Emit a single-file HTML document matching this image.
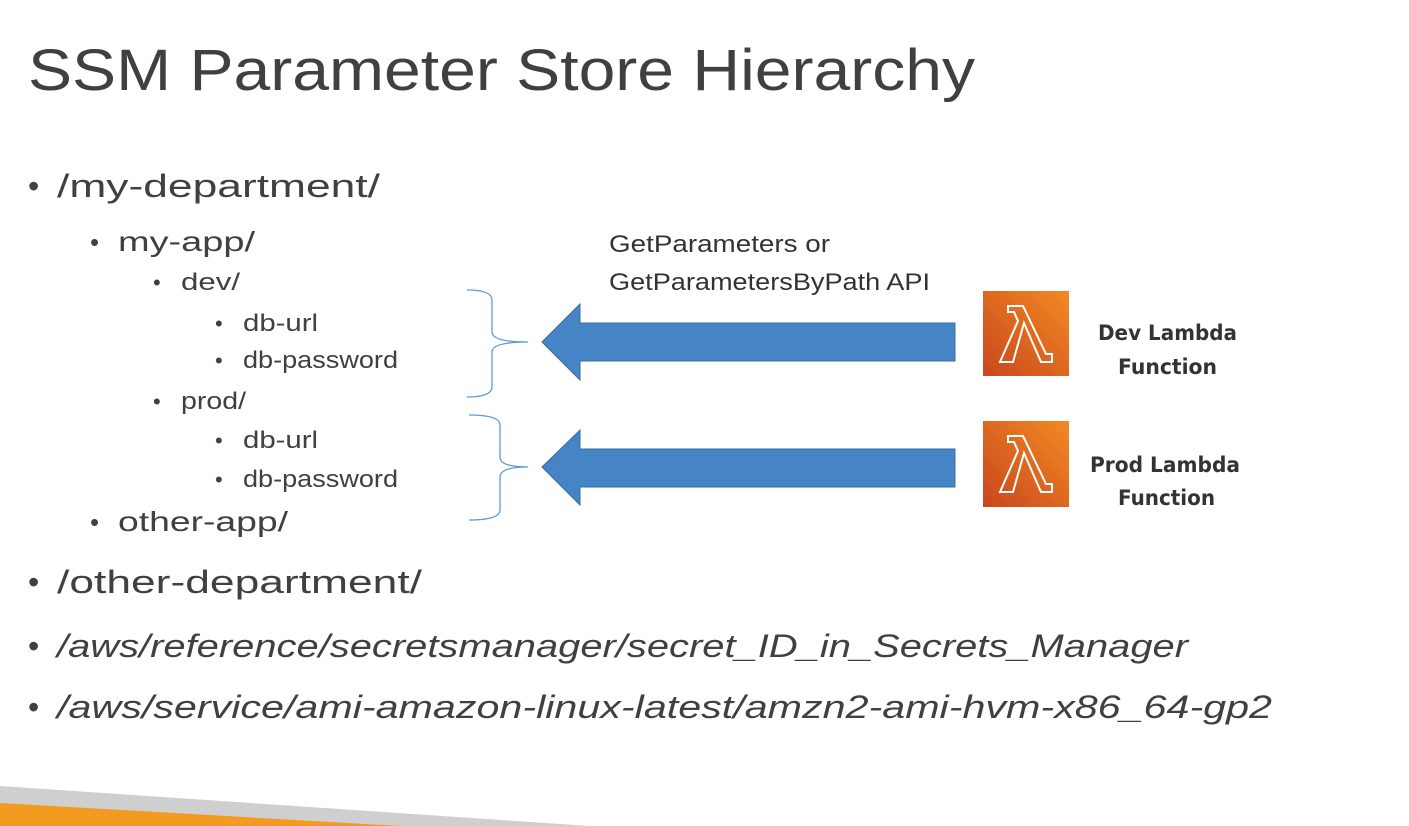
<!DOCTYPE html>
<html><head><meta charset="utf-8"><style>
html,body{margin:0;padding:0;background:#fff;width:1409px;height:826px;overflow:hidden}
svg{display:block}
.t{font-family:"Liberation Sans",sans-serif;fill:#404040}
.l{font-family:"Liberation Sans",sans-serif;fill:#333}
.b{font-family:"DejaVu Sans","Liberation Sans",sans-serif;font-weight:bold;fill:#333}
</style></head><body>
<svg width="1409" height="826" viewBox="0 0 1409 826">
<defs><linearGradient id="g" x1="0" y1="1" x2="1" y2="0"><stop offset="0" stop-color="#c9461e"/><stop offset="1" stop-color="#f28a22"/></linearGradient></defs>
<text class="t" x="28" y="90" font-size="58" textLength="947" lengthAdjust="spacingAndGlyphs">SSM Parameter Store Hierarchy</text>
<g class="t">
<text x="28" y="197" font-size="32">•</text><text x="57" y="197" font-size="32" textLength="323" lengthAdjust="spacingAndGlyphs">/my-department/</text>
<text x="90" y="251" font-size="26">•</text><text x="118" y="251" font-size="28" textLength="137" lengthAdjust="spacingAndGlyphs">my-app/</text>
<text x="153" y="290" font-size="22">•</text><text x="181" y="290" font-size="24" textLength="59" lengthAdjust="spacingAndGlyphs">dev/</text>
<text x="215" y="331" font-size="22">•</text><text x="243" y="331" font-size="24" textLength="75" lengthAdjust="spacingAndGlyphs">db-url</text>
<text x="215" y="368" font-size="22">•</text><text x="243" y="368" font-size="24" textLength="155" lengthAdjust="spacingAndGlyphs">db-password</text>
<text x="153" y="409" font-size="22">•</text><text x="181" y="409" font-size="24" textLength="65" lengthAdjust="spacingAndGlyphs">prod/</text>
<text x="215" y="448" font-size="22">•</text><text x="243" y="448" font-size="24" textLength="75" lengthAdjust="spacingAndGlyphs">db-url</text>
<text x="215" y="487" font-size="22">•</text><text x="243" y="487" font-size="24" textLength="155" lengthAdjust="spacingAndGlyphs">db-password</text>
<text x="90" y="531" font-size="26">•</text><text x="118" y="531" font-size="28" textLength="170" lengthAdjust="spacingAndGlyphs">other-app/</text>
<text x="28" y="593" font-size="32">•</text><text x="57" y="593" font-size="32" textLength="365" lengthAdjust="spacingAndGlyphs">/other-department/</text>
<text x="28" y="657" font-size="32">•</text><text x="57" y="657" font-size="32" font-style="italic" textLength="1131" lengthAdjust="spacingAndGlyphs">/aws/reference/secretsmanager/secret_ID_in_Secrets_Manager</text>
<text x="28" y="718" font-size="32">•</text><text x="57" y="718" font-size="32" font-style="italic" textLength="1215" lengthAdjust="spacingAndGlyphs">/aws/service/ami-amazon-linux-latest/amzn2-ami-hvm-x86_64-gp2</text>
</g>
<text class="l" x="609" y="252" font-size="24" textLength="221" lengthAdjust="spacingAndGlyphs">GetParameters or</text>
<text class="l" x="609" y="290" font-size="24" textLength="321" lengthAdjust="spacingAndGlyphs">GetParametersByPath API</text>
<path d="M467 290 Q492 290 492 300 L492 332 Q492 342 528 342 Q492 342 492 352 L492 387 Q492 397 467 397" fill="none" stroke="#5b9bd5" stroke-width="1.3"/>
<path d="M469 415 Q500 415 500 425 L500 457 Q500 467 528 467 Q500 467 500 477 L500 510 Q500 520 469 520" fill="none" stroke="#5b9bd5" stroke-width="1.3"/>
<polygon points="542,342 580,304 580,323 955,323 955,361 580,361 580,380" fill="#4585c5" stroke="#3a6d9e" stroke-width="1"/>
<polygon points="542,467 580,430 580,449 955,449 955,487 580,487 580,505" fill="#4585c5" stroke="#3a6d9e" stroke-width="1"/>
<g>
<rect x="983" y="291" width="86" height="85" fill="url(#g)"/>
<path d="M1008 306 L1023 306 L1046 354 L1052 354 L1052 362 L1041 362 L1024 323 L1013 362 L1000 362 L1018 321 L1014 312 L1008 312 Z" fill="none" stroke="#fff" stroke-width="2"/>
<rect x="983" y="421" width="86" height="86" fill="url(#g)"/>
<path d="M1008 436 L1023 436 L1046 484 L1052 484 L1052 492 L1041 492 L1024 453 L1013 492 L1000 492 L1018 451 L1014 442 L1008 442 Z" fill="none" stroke="#fff" stroke-width="2"/>
</g>
<text class="b" x="1098" y="340" font-size="21" textLength="139" lengthAdjust="spacingAndGlyphs">Dev Lambda</text>
<text class="b" x="1118" y="374" font-size="21" textLength="99" lengthAdjust="spacingAndGlyphs">Function</text>
<text class="b" x="1090" y="472" font-size="21" textLength="150" lengthAdjust="spacingAndGlyphs">Prod Lambda</text>
<text class="b" x="1118" y="505" font-size="21" textLength="97" lengthAdjust="spacingAndGlyphs">Function</text>
<polygon points="0,786 590,826 0,826" fill="#cfcfcf"/>
<polygon points="0,803 400,826 0,826" fill="#f39a21"/>
</svg>
</body></html>
